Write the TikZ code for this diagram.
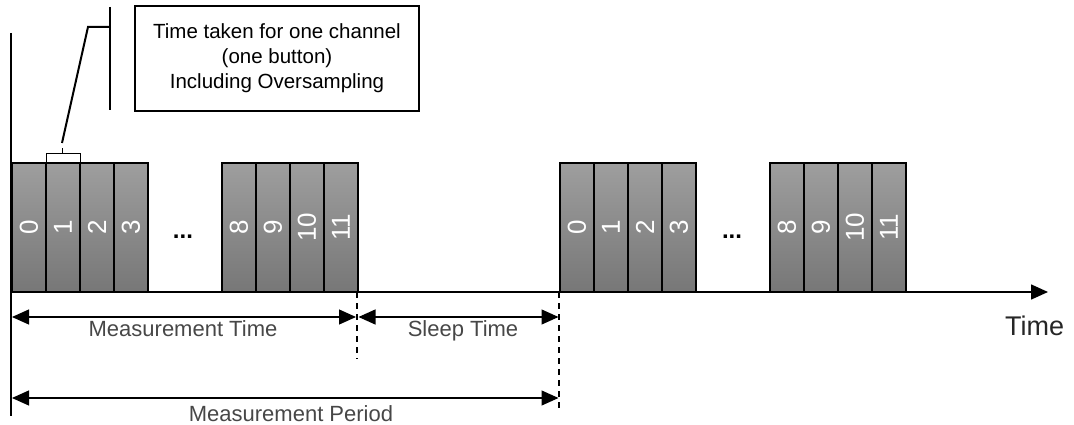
\documentclass[tikz,border=0pt]{standalone}
\usepackage{fontspec}
\setmainfont{Liberation Sans}
\usetikzlibrary{arrows.meta}
\definecolor{blocktop}{HTML}{9E9E9E}
\definecolor{blockbot}{HTML}{777777}
\definecolor{lbl}{HTML}{474747}
\begin{document}
\begin{tikzpicture}[x=1pt,y=-1pt,
  chan/.style={draw=black, line width=1.2pt, top color=blocktop, bottom color=blockbot,
    minimum width=34pt, minimum height=129pt, inner sep=0pt, outer sep=0pt,
    text=white, font=\fontsize{26}{26}\selectfont},
  chanb/.style={chan, line width=1.8pt},
  dotsn/.style={font=\fontsize{24}{24}\selectfont\bfseries, inner sep=0pt},
  axisline/.style={line width=1.5pt, -{Triangle[length=17pt,width=15pt]}},
  dimarrow/.style={line width=1.2pt, {Triangle[length=17pt,width=15pt]}-{Triangle[length=17pt,width=15pt]}},
  dashln/.style={line width=1.1pt, dash pattern=on 6pt off 5pt},
  lblt/.style={text=lbl, font=\fontsize{22}{22}\selectfont, inner sep=0pt, anchor=base},
  callout/.style={line width=2pt},
  notebox/.style={draw=black, line width=2pt, minimum width=284pt, minimum height=105pt,
    align=center, font=\fontsize{20.5}{25}\selectfont, inner sep=0pt}
]
\useasboundingbox (0,0) rectangle (1074,425);

% blocks
\foreach \n/\x in {0/29,1/63,2/97,3/131} \node[chan] (a\n) at (\x,227.5) {\rotatebox{90}{\n}};
\foreach \n/\x in {8/239,9/273,10/307,11/341} \node[chanb] (b\n) at (\x,227.5) {\rotatebox{90}{\n}};
\foreach \n/\x in {0/577,1/611,2/645,3/679} \node[chan] (c\n) at (\x,227.5) {\rotatebox{90}{\n}};
\foreach \n/\x in {8/787,9/821,10/855,11/889} \node[chanb] (d\n) at (\x,227.5) {\rotatebox{90}{\n}};
\node[dotsn] (e1) at (183,237) {...};
\node[dotsn] (e2) at (732,237) {...};

% axes
\coordinate (o) at (11,292);
\coordinate (axend) at (1048,292);
\coordinate (vtop) at (11,33);
\coordinate (vbot) at (11,416);
\draw[line width=2pt] (vtop) -- (vbot);
\draw[axisline] (o) -- (axend);
\node[text=black!85, font=\fontsize{27}{27}\selectfont, inner sep=0pt, anchor=base west] (tl) at (1005,335) {Time};

% dashed markers
\coordinate (m1) at (357,292);
\coordinate (m2) at (357,359);
\coordinate (s1) at (559,292);
\coordinate (s2) at (559,410);
\draw[dashln] (m1) -- (m2);
\draw[dashln] (s1) -- (s2);

% dimension arrows
\coordinate (mt1) at (12,317);
\coordinate (mt2) at (356,317);
\coordinate (st1) at (358.5,317);
\coordinate (st2) at (558.5,317);
\coordinate (mp1) at (12,398);
\coordinate (mp2) at (558.5,398);
\draw[dimarrow] (mt1) -- (mt2);
\draw[dimarrow] (st1) -- (st2);
\draw[dimarrow] (mp1) -- (mp2);
\node[lblt] (lmt) at (183,336) {Measurement Time};
\node[lblt] (lst) at (463,336) {Sleep Time};
\node[lblt] (lmp) at (291,421) {Measurement Period};

% note box and callout
\node[notebox] (note) at (277,58.5) {Time taken for one channel\\(one button)\\Including Oversampling};
\coordinate (br1) at (46,163);
\coordinate (br2) at (46,154);
\coordinate (br3) at (80,154);
\coordinate (br4) at (80,163);
\coordinate (brm) at (62.5,154);
\coordinate (brt) at (62.5,148);
\draw[line width=1pt] (br1) -- (br2) -- (br3) -- (br4);
\draw[line width=1pt] (brm) -- (brt);
\coordinate (cl1) at (62,143);
\coordinate (cl2) at (88,27);
\coordinate (cl3) at (110,27);
\coordinate (vb1) at (110,7);
\coordinate (vb2) at (110,110);
\draw[callout] (cl1) -- (cl2) -- (cl3);
\draw[callout] (vb1) -- (vb2);
\end{tikzpicture}
\end{document}
